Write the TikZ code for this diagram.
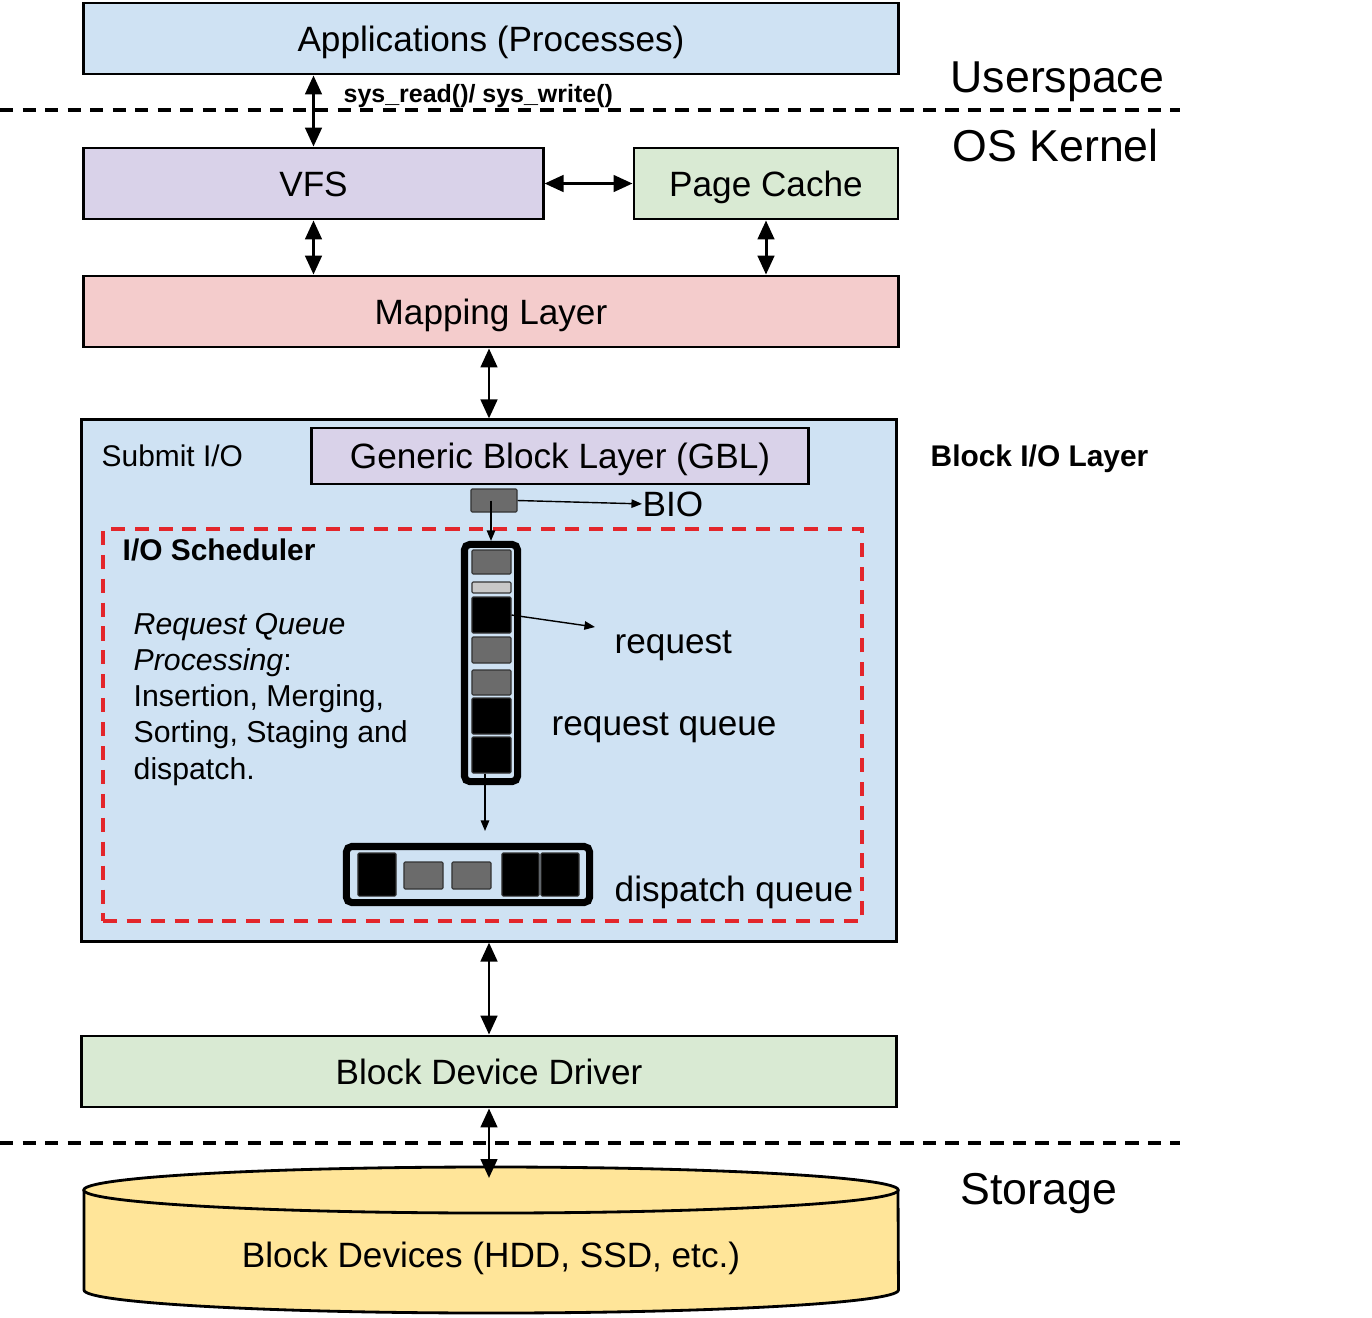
\documentclass[tikz,border=0pt]{standalone}
\usepackage{fontspec}
\setmainfont{Liberation Sans}
\usetikzlibrary{arrows.meta}

\definecolor{userblue}{HTML}{CFE2F3}
\definecolor{vfspurple}{HTML}{D9D2E9}
\definecolor{cachegreen}{HTML}{D9EAD3}
\definecolor{mappink}{HTML}{F4CCCC}
\definecolor{diskyellow}{HTML}{FFE599}
\definecolor{schedred}{HTML}{E3262B}
\definecolor{cellgrey}{HTML}{6B6B6B}
\definecolor{celllight}{HTML}{C8C8C8}

\tikzset{
  layer/.style={draw, line width=0.8pt, inner sep=0pt, minimum height=0.71cm,
    text height=0.92em, text depth=0.2em},
  dbl/.style={{Triangle[length=5.4pt,width=4.7pt]}-{Triangle[length=5.4pt,width=4.7pt]}, line width=0.85pt},
  thinarr/.style={-{Triangle[length=3pt,width=2.4pt]}, line width=0.4pt},
  sep/.style={dash pattern=on 3.8pt off 2.6pt, line width=0.9pt},
  lbl/.style={anchor=base west, inner sep=0pt},
  cell/.style={draw=black!80, line width=0.3pt, inner sep=0pt, rounded corners=0.3pt},
  queue/.style={draw, line width=2pt, rounded corners=1.5pt, inner sep=0pt},
}

\begin{document}
\begin{tikzpicture}[x=0.01cm, y=-0.01cm]

\useasboundingbox (0,0) rectangle (1372,1317);

% Separators
\coordinate (sepa) at (0,110);
\coordinate (sepb) at (1180,110);
\coordinate (sepc) at (0,1143);
\coordinate (sepd) at (1180,1143);
\draw[sep] (sepa) -- (sepb);
\draw[sep] (sepc) -- (sepd);

\node[lbl, font=\fontsize{12.7}{15}\selectfont] (user) at (950,92) {Userspace};
\node[lbl, font=\fontsize{12.7}{15}\selectfont] (kern) at (952,161) {OS Kernel};
\node[lbl, font=\fontsize{12.7}{15}\selectfont] (stor) at (960,1204) {Storage};

% Layers
\node[layer, fill=userblue, minimum width=8.14cm] (app) at (491,38.5) {Applications (Processes)};
\node[layer, fill=vfspurple, minimum width=4.59cm] (vfs) at (313.5,183.5) {VFS};
\node[layer, fill=cachegreen, minimum width=2.64cm] (page) at (766,183.5) {Page Cache};
\node[layer, fill=mappink, minimum width=8.14cm] (map) at (491,311.5) {Mapping Layer};
\node[layer, fill=userblue, minimum width=8.14cm, minimum height=5.21cm] (blk) at (489,680.5) {};
\node[layer, fill=cachegreen, minimum width=8.14cm] (drv) at (489,1071.5) {Block Device Driver};

\node[lbl, font=\bfseries\fontsize{7.1}{8}\selectfont] (sys) at (343,102) {sys\_read()/ sys\_write()};

% Block I/O layer
\node[lbl, font=\fontsize{8.5}{10}\selectfont] (submit) at (101,466) {Submit I/O};
\node[lbl, font=\bfseries\fontsize{8.5}{10}\selectfont] (bil) at (930,466) {Block I/O Layer};
\node[layer, fill=vfspurple, minimum width=4.96cm, minimum height=0.56cm] (gbl) at (560,456) {Generic Block Layer (GBL)};
\node[cell, fill=cellgrey, minimum width=0.46cm, minimum height=0.23cm] (bio) at (494,500.5) {};
\node[lbl] (biotxt) at (642,516) {BIO};

\node[draw=schedred, dash pattern=on 4pt off 2.8pt, line width=1pt, inner sep=0pt,
  minimum width=7.59cm, minimum height=3.92cm] (sched) at (482.5,725) {};
\node[lbl, font=\bfseries\fontsize{8.5}{10}\selectfont] (schedtxt) at (122,560) {I/O Scheduler};
\node[anchor=north west, inner sep=0pt, align=left, font=\fontsize{8.6}{10.25}\selectfont] (proc) at (133,613)
  {\textit{Request Queue}\\\textit{Processing}:\\Insertion, Merging,\\Sorting, Staging and\\dispatch.};

% Request queue
\node[queue, minimum width=0.53cm, minimum height=2.37cm] (rq) at (491,663) {};
\node[cell, fill=cellgrey, minimum width=0.39cm, minimum height=0.24cm] (r1) at (491.5,562) {};
\node[cell, fill=celllight, minimum width=0.39cm, minimum height=0.11cm] (r2) at (491.5,587.5) {};
\node[cell, fill=black, minimum width=0.39cm, minimum height=0.36cm] (r3) at (491.5,615) {};
\node[cell, fill=cellgrey, minimum width=0.39cm, minimum height=0.26cm] (r4) at (491.5,650) {};
\node[cell, fill=cellgrey, minimum width=0.39cm, minimum height=0.25cm] (r5) at (491.5,682.5) {};
\node[cell, fill=black, minimum width=0.39cm, minimum height=0.36cm] (r6) at (491.5,716) {};
\node[cell, fill=black, minimum width=0.39cm, minimum height=0.36cm] (r7) at (491.5,755) {};

\node[lbl] (req) at (614,653) {request};
\node[lbl] (rqtxt) at (551,735) {request queue};
\coordinate (reqtip) at (595,627);

% Dispatch queue
\node[queue, minimum width=2.43cm, minimum height=0.56cm] (dq) at (468,874.5) {};
\node[cell, fill=black, minimum width=0.38cm, minimum height=0.43cm] (d1) at (377,874.5) {};
\node[cell, fill=cellgrey, minimum width=0.39cm, minimum height=0.27cm] (d2) at (423.5,875.5) {};
\node[cell, fill=cellgrey, minimum width=0.39cm, minimum height=0.27cm] (d3) at (471.5,875.5) {};
\node[cell, fill=black, minimum width=0.37cm, minimum height=0.43cm] (d4) at (520.5,874.5) {};
\node[cell, fill=black, minimum width=0.38cm, minimum height=0.43cm] (d5) at (560,874.5) {};
\node[lbl] (dqtxt) at (614,901) {dispatch queue};
\coordinate (dqtip) at (485,831);

% Disk
\draw[fill=diskyellow, line width=0.8pt] (84,1190) -- (84,1290)
  arc[start angle=180, end angle=360, x radius=4.07cm, y radius=0.23cm] -- (898,1190);
\draw[fill=diskyellow, line width=0.8pt] (491,1190) ellipse [x radius=4.07cm, y radius=0.23cm];
\node[text height=0.92em, text depth=0.2em] (disk) at (491,1255) {Block Devices (HDD, SSD, etc.)};
\coordinate (disktop) at (489,1178);

% Arrows
\draw[dbl] (vfs.north) -- (vfs.north |- app.south);
\draw[dbl] (vfs.east) -- (page.west);
\draw[dbl] (vfs.south) -- (vfs.south |- map.north);
\draw[dbl] (page.south) -- (page.south |- map.north);
\draw[dbl] (blk.north) -- (blk.north |- map.south);
\draw[dbl] (blk.south) -- (drv.north);
\draw[dbl] (drv.south) -- (disktop);

\draw[thinarr] (bio.east) -- (biotxt.west);
\draw[thinarr] (bio.center -| rq.north) -- (rq.north);
\draw[thinarr] (r3.east) -- (reqtip);
\draw[thinarr] (dqtip |- r7.south) -- (dqtip);

\end{tikzpicture}
\end{document}
